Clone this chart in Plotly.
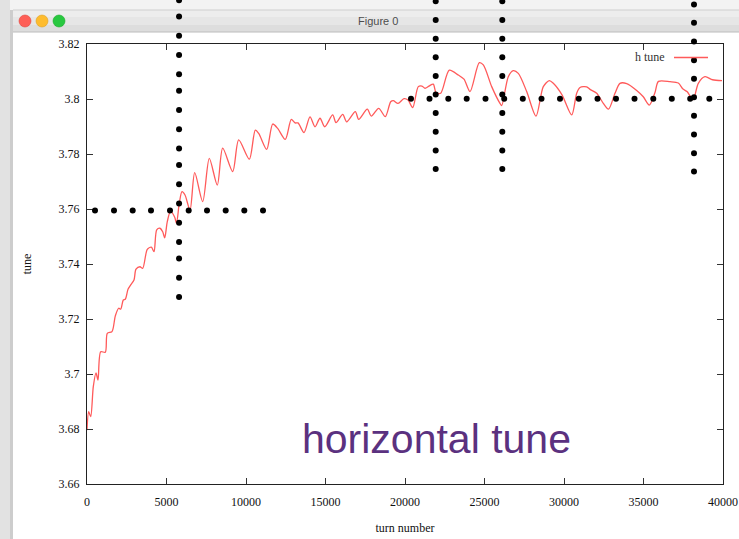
import plotly.graph_objects as go

# ---------------- data ----------------
turns = [0, 107, 233, 396, 566, 692, 862, 1151, 1277, 1572, 1780, 1994, 2119, 2283, 2409, 2579, 2748, 2956,
         3082, 3333, 3503, 3792, 4044, 4214, 4384, 4591, 4761, 4887, 5050, 5252, 5516, 5629, 5805, 5975,
         6164, 6478, 6774, 7277, 7692, 8195, 8535, 9164, 9541, 10208, 10585, 10799, 11302, 11679, 11994,
         12472, 12849, 13082, 13270, 13648, 14025, 14340, 14654, 14950, 15453, 15660, 16082, 16333, 16874,
         17088, 17629, 17880, 18346, 18761, 19100, 19264, 19560, 19937, 20189, 20484, 20836, 21069, 21258,
         21509, 21780, 21950, 22245, 22786, 23352, 23711, 24088, 24673, 24925, 25453, 25975, 26082, 26497,
         26811, 27126, 27654, 28239, 28698, 29075, 29327, 29874, 30484, 30798, 31006, 31427, 31635, 32056,
         32472, 32799, 33208, 33522, 33943, 34572, 34987, 35365, 35723, 35943, 36667, 37189, 37484, 37736,
         37956, 38132, 38447, 38868, 39340, 39937]
h_tune = [3.6796, 3.6863, 3.6845, 3.6954, 3.7004, 3.6978, 3.7081, 3.7079, 3.7148, 3.7154,
          3.7211, 3.7239, 3.7236, 3.7269, 3.7272, 3.7308, 3.7324, 3.7342, 3.7381, 3.7390,
          3.7384, 3.7453, 3.7461, 3.7445, 3.7524, 3.7530, 3.7517, 3.7495, 3.7554, 3.7591,
          3.7570, 3.7548, 3.7621, 3.7663, 3.7651, 3.7596, 3.7732, 3.7627, 3.7784, 3.7687,
          3.7821, 3.7736, 3.7851, 3.7781, 3.7887, 3.7875, 3.7817, 3.7909, 3.7893, 3.7853,
          3.7926, 3.7913, 3.7913, 3.7878, 3.7935, 3.7899, 3.7930, 3.7899, 3.7942, 3.7914,
          3.7944, 3.7917, 3.7954, 3.7926, 3.7963, 3.7938, 3.7966, 3.7936, 3.7990, 3.7994,
          3.7984, 3.8001, 3.7996, 3.7969, 3.8045, 3.8047, 3.8039, 3.8047, 3.8054, 3.8023,
          3.8021, 3.8105, 3.8087, 3.8072, 3.8027, 3.8132, 3.8124, 3.8045, 3.7984, 3.7976,
          3.8081, 3.8103, 3.8093, 3.8027, 3.7938, 3.8045, 3.8067, 3.8057, 3.8015, 3.7942,
          3.8021, 3.8042, 3.8044, 3.8035, 3.8021, 3.7984, 3.7963, 3.8021, 3.8057, 3.8056,
          3.8031, 3.8008, 3.7978, 3.8024, 3.8064, 3.8063, 3.8058, 3.8036, 3.8027, 3.8009,
          3.7998, 3.8057, 3.8081, 3.8070, 3.8067]
assert len(turns) == len(h_tune)

# dotted overlay marks (black dots)
hdots1_x = [503, 1698, 2874, 4025, 5220, 6396, 7547, 8723, 9893, 11069]
hdots1_y = 3.7595
vdots1_x = 5790
vdots1_y = [3.728, 3.735, 3.742, 3.748, 3.755, 3.762, 3.769, 3.776, 3.782, 3.789,
            3.796, 3.803, 3.809, 3.816, 3.823, 3.830, 3.8359]
hdots2_x = [20377, 21541, 22723, 23880, 25063, 26239, 27409, 28585, 29748, 30931,
            32107, 33270, 34434, 35616, 36779, 37937, 39138]
hdots2_y = 3.8001
vdots2_x = 21931
vdots3_x = 26119
vdots23_y = [3.7745, 3.7813, 3.7881, 3.7949, 3.8016, 3.8084, 3.8152, 3.8219, 3.8287, 3.8355]
vdots4_x = 38176
vdots4_y = [3.7736, 3.7803, 3.7871, 3.7939, 3.8006, 3.8074, 3.8141, 3.8209, 3.8277, 3.8344]

x_ticks = [0, 5000, 10000, 15000, 20000, 25000, 30000, 35000, 40000]
x_ticktext = ["0", "5000", "10000", "15000", "20000", "25000", "30000", "35000", "40000"]
y_ticks = [3.66, 3.68, 3.70, 3.72, 3.74, 3.76, 3.78, 3.80, 3.82]
y_ticktext = ["3.66", "3.68", "3.7", "3.72", "3.74", "3.76", "3.78", "3.8", "3.82"]
y_min, y_max = 3.66, 3.82

# ---------------- layout geometry ----------------
W, H = 739, 539
L, R, T, B = 87, 723, 44, 484          # plot frame in pixels
PW = R - L                              # paper width
PH = B                                  # paper spans from top of figure to bottom of frame
frame_top = (B - T) / PH                # y-domain top of the framed axis
# overlay axis spans the whole paper height with the same scale
y2_max = y_min + (y_max - y_min) / frame_top


def px(xp):
    return (xp - L) / PW


def py(yp):
    return (B - yp) / PH


fig = go.Figure()

fig.add_trace(go.Scatter(x=turns, y=h_tune, mode="lines", name="h tune",
                         line=dict(color="#ff5a5a", width=1.3, shape="spline", smoothing=0.8),
                         showlegend=False, hoverinfo="skip", xaxis="x", yaxis="y"))

dot_style = dict(mode="markers", marker=dict(color="black", size=6), showlegend=False,
                 cliponaxis=False, hoverinfo="skip", xaxis="x", yaxis="y2")
fig.add_trace(go.Scatter(x=hdots1_x, y=[hdots1_y] * len(hdots1_x), **dot_style))
fig.add_trace(go.Scatter(x=[vdots1_x] * len(vdots1_y), y=vdots1_y, **dot_style))
fig.add_trace(go.Scatter(x=hdots2_x, y=[hdots2_y] * len(hdots2_x), **dot_style))
fig.add_trace(go.Scatter(x=[vdots2_x] * len(vdots23_y), y=vdots23_y, **dot_style))
fig.add_trace(go.Scatter(x=[vdots3_x] * len(vdots23_y), y=vdots23_y, **dot_style))
fig.add_trace(go.Scatter(x=[vdots4_x] * len(vdots4_y), y=vdots4_y, **dot_style))

shapes = []
# desktop top strip
shapes.append(dict(type="rect", xref="paper", yref="paper", x0=px(0), x1=px(W), y0=py(10), y1=py(0),
                   fillcolor="#f3f3f3", line=dict(width=0), layer="below"))
# left desktop strip
shapes.append(dict(type="rect", xref="paper", yref="paper", x0=px(0), x1=px(10), y0=py(H), y1=py(0),
                   fillcolor="#e2e2e2", line=dict(width=0), layer="below"))
shapes.append(dict(type="rect", xref="paper", yref="paper", x0=px(10), x1=px(13), y0=py(H), y1=py(10),
                   fillcolor="#cdcdcd", line=dict(width=0), layer="below"))
# title bar (stepped gradient)
for (y0, y1, c) in [(10, 17, "#ededed"), (17, 25, "#e6e6e6"), (25, 32, "#dddddd")]:
    shapes.append(dict(type="rect", xref="paper", yref="paper", x0=px(13), x1=px(W), y0=py(y1), y1=py(y0),
                       fillcolor=c, line=dict(width=0), layer="below"))
shapes.append(dict(type="line", xref="paper", yref="paper", x0=px(13), x1=px(W), y0=py(32), y1=py(32),
                   line=dict(color="#bcbcbc", width=1), layer="below"))
shapes.append(dict(type="line", xref="paper", yref="paper", x0=px(13), x1=px(W), y0=py(10), y1=py(10),
                   line=dict(color="#cfcfcf", width=1), layer="below"))
# traffic lights
for cx, col, edge in [(25, "#fe5f57", "#e0443e"), (42, "#febc2e", "#dea123"), (59, "#28c840", "#1aab29")]:
    shapes.append(dict(type="circle", xref="paper", yref="paper", x0=px(cx - 6), x1=px(cx + 6),
                       y0=py(27), y1=py(15), fillcolor=col, line=dict(color=edge, width=0.6), layer="below"))
# legend sample line
shapes.append(dict(type="line", xref="paper", yref="paper", x0=px(674), x1=px(708), y0=py(57.5), y1=py(57.5),
                   line=dict(color="#ff5a5a", width=1.3)))

annotations = [
    dict(text="Figure 0", xref="paper", yref="paper", x=px(378), y=py(21), showarrow=False,
         font=dict(family="Liberation Sans, Arial", size=11, color="#4d4d4d"), xanchor="center", yanchor="middle"),
    dict(text="h tune", xref="paper", yref="paper", x=px(667), y=py(57), showarrow=False,
         font=dict(family="Liberation Serif, Times New Roman", size=12, color="#333333"),
         xanchor="right", yanchor="middle"),
    dict(text="horizontal tune", xref="paper", yref="paper", x=px(436), y=py(439), showarrow=False,
         font=dict(family="Liberation Sans, Arial", size=41, color="#5b317f"),
         xanchor="center", yanchor="middle"),
]

axis_font = dict(family="Liberation Serif, Times New Roman", size=12, color="#111111")
fig.update_layout(
    width=W, height=H,
    margin=dict(l=L, r=W - R, t=0, b=H - B, pad=0, autoexpand=False),
    paper_bgcolor="white", plot_bgcolor="rgba(0,0,0,0)",
    showlegend=False,
    shapes=shapes, annotations=annotations,
    xaxis=dict(range=[0, 40000], tickvals=x_ticks, ticktext=x_ticktext, ticks="inside", ticklen=6,
               tickcolor="#333333", mirror="ticks", showline=True, linecolor="#222222", linewidth=1,
               showgrid=False, zeroline=False, tickfont=axis_font, ticklabelstandoff=7,
               anchor="y", automargin=False,
               title=dict(text="turn number", font=axis_font, standoff=15)),
    yaxis=dict(range=[y_min, y_max], domain=[0, frame_top], tickvals=y_ticks, ticktext=y_ticktext,
               ticks="inside", ticklen=6,
               tickcolor="#333333", mirror="ticks", showline=True, linecolor="#222222", linewidth=1,
               showgrid=False, zeroline=False, tickfont=axis_font, ticklabelstandoff=4,
               anchor="x", automargin=False,
               title=dict(text="tune", font=axis_font, standoff=24)),
    yaxis2=dict(range=[y_min, y2_max], domain=[0, 1], anchor="x", visible=False,
                showgrid=False, zeroline=False, fixedrange=True, automargin=False),
)

fig.write_html("out.html", config={"displayModeBar": False},
               post_script="document.body.style.margin='0';document.body.style.overflow='hidden';")
